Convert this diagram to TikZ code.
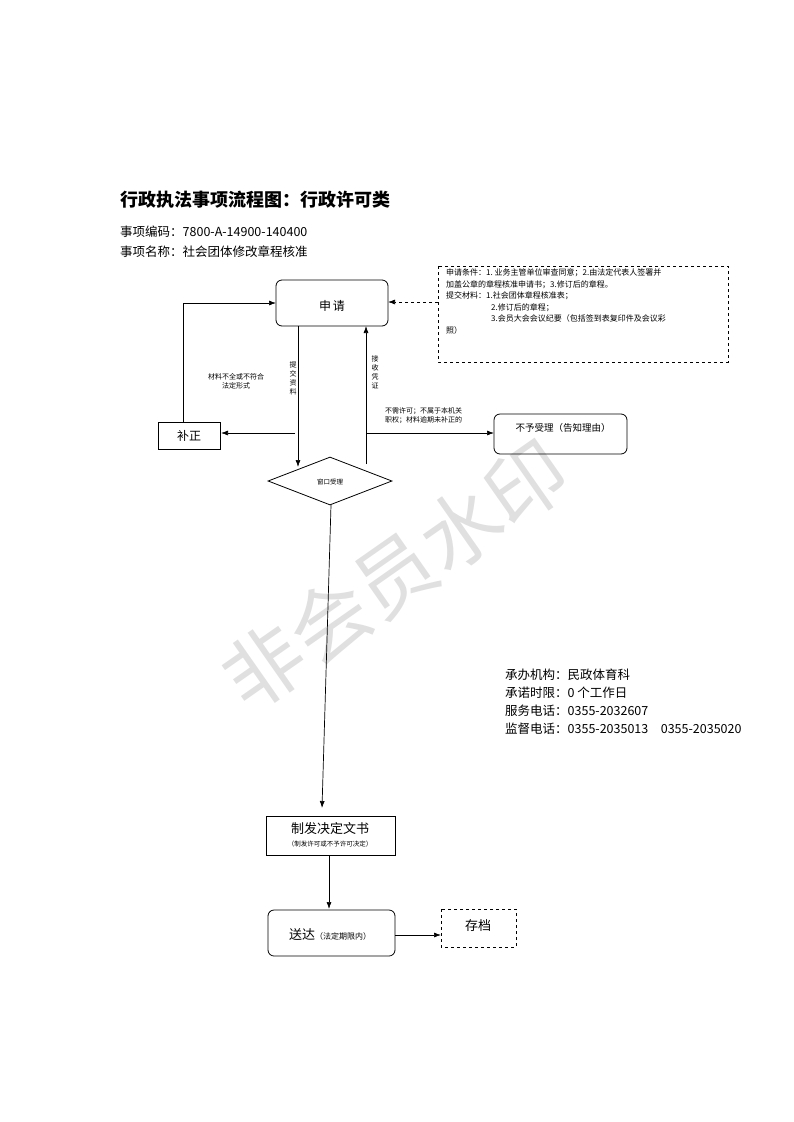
\documentclass[tikz,border=0pt]{standalone}
\usepackage{fontspec}
\setmainfont{Noto Sans CJK SC}
\usetikzlibrary{arrows.meta,shapes.geometric}
\begin{document}
\begin{tikzpicture}[x=1pt,y=-1pt,
 bx/.style={draw,thick,line width=0.8pt},
 rbx/.style={draw,line width=0.8pt,rounded corners=6pt},
 arr/.style={-{Latex[length=7pt,width=5pt]},line width=0.7pt},
 sm/.style={font=\fontsize{7}{9}\selectfont,align=center},
 info/.style={font=\fontsize{12.5}{14}\selectfont,anchor=west,inner sep=0pt}]
\useasboundingbox (0,0) rectangle (793,1122);
\node[rotate=35,text=black!12,font=\fontsize{80}{80}\selectfont] (wm) at (395,575) {非会员水印};
\node[anchor=west,inner sep=0pt,font=\fontsize{18}{20}\selectfont\bfseries] (title) at (120,200) {行政执法事项流程图：行政许可类};
\node[info] (code) at (120,232) {事项编码：7800-A-14900-140400};
\node[info] (name) at (120,252) {事项名称：社会团体修改章程核准};
\draw[rbx] (276,280) rectangle (388,326);
\node[font=\fontsize{12}{14}\selectfont] (sq) at (332,306) {申\,请};
\coordinate (sqL) at (276,303); \coordinate (sqR) at (388,302);
\draw[dashed,line width=0.7pt] (438,266) rectangle (728,362);
\node[anchor=north west,align=left,inner sep=0pt,font=\fontsize{8}{11.5}\selectfont] (cond) at (446,269) {申请条件：1.\ 业务主管单位审查同意；2.由法定代表人签署并\\加盖公章的章程核准申请书；3.修订后的章程。\\提交材料：1.社会团体章程核准表；\\\hspace*{45pt}2.修订后的章程；\\\hspace*{45pt}3.会员大会会议纪要（包括签到表复印件及会议彩\\照）};
\coordinate (dbL) at (438,302);
\draw[arr,dashed] (dbL) -- (sqR);
\draw[bx] (158,422) rectangle (220,449);
\node[font=\fontsize{12}{14}\selectfont] (bz) at (189,436) {补正};
\draw[arr] (183,422) -- (183,303) -- (sqL);
\node[diamond,draw,line width=0.8pt,minimum width=124pt,minimum height=48pt,inner sep=0pt,aspect=2.6] (ck) at (330,481) {};
\node[font=\fontsize{6.5}{7}\selectfont] at (330,482) {窗口受理};
\draw[arr] (298,326) -- (298,467);
\draw[arr] (366,464) -- (366,326);
\node[sm,text width=8pt] (tj) at (293,378) {提\\交\\资\\料};
\node[sm,text width=8pt] (js) at (375,372) {接\\收\\凭\\证};
\draw[arr] (295,433) -- (221,433);
\node[sm] (bq) at (236,381) {材料不全或不符合\\法定形式};
\draw[rbx] (494,414) rectangle (627,454);
\node[font=\fontsize{9.5}{10}\selectfont] (byl) at (563,428) {不予受理（告知理由）};
\draw[arr] (367,433) -- (494,433);
\node[anchor=west,align=left,font=\fontsize{7}{9}\selectfont,inner sep=0pt] (bx2) at (385,416) {不需许可；不属于本机关\\职权；材料逾期未补正的};
\draw[bx] (266,816) rectangle (395,855);
\node[align=center,inner sep=0pt] (zf) at (330,835) {\fontsize{13}{15}\selectfont 制发决定文书\\[1pt]\fontsize{6.5}{7}\selectfont （制发许可或不予许可决定）};
\draw[arr] (331,505) -- (322,808);
\draw[arr] (329,855) -- (329,909);
\draw[rbx] (268,910) rectangle (395,956);
\node (sd) at (330,935) {\fontsize{13}{15}\selectfont 送达\fontsize{8}{10}\selectfont（法定期限内）};
\draw[dashed,line width=0.7pt] (441,909) rectangle (516,947);
\node (cd) at (478,926) {\fontsize{13}{15}\selectfont 存档};
\draw[arr] (395,935) -- (441,935);
\node[info] at (505,675) {承办机构：民政体育科};
\node[info] at (505,693) {承诺时限：0 个工作日};
\node[info] at (505,711) {服务电话：0355-2032607};
\node[info] at (505,729) {监督电话：0355-2035013\quad 0355-2035020};
\end{tikzpicture}
\end{document}
